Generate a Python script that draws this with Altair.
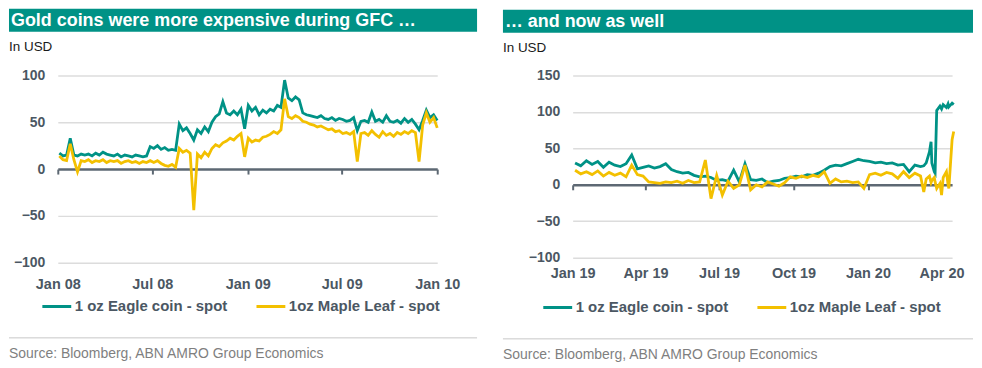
import altair as alt
import pandas as pd

FONT = "Liberation Sans"
TEAL = "#009286"
YELLOW = "#F3C000"
LABEL = "#4b5763"
AXISLINE = "#5d6873"
EAGLE = "1 oz Eagle coin - spot"
MAPLE = "1oz Maple Leaf - spot"

# ---------------- Left panel: GFC (weekly, from 2008-01-04) ----------------
gfc_dates = pd.date_range("2008-01-04", periods=105, freq="7D")
gfc_eagle = [
    17, 14, 15, 33, 15, 14, 16, 15, 16, 14,
    17, 15, 18, 16, 15, 14, 16, 13, 15, 14,
    13, 15, 14, 13, 14, 24, 22, 25, 21, 23,
    20, 21, 20, 48, 41, 44, 38, 31, 42, 38,
    45, 40, 50, 56, 59, 72, 60, 58, 62, 58,
    64, 43, 68, 62, 66, 58, 63, 60, 64, 62,
    68, 66, 95, 76, 73, 77, 74, 60, 58, 57,
    56, 55, 57, 54, 53, 55, 52, 54, 53, 51,
    52, 55, 41, 51, 52, 50, 61, 51, 53, 50,
    57, 51, 50, 52, 49, 54, 50, 53, 48, 42,
    52, 63, 55, 58, 52,
]
gfc_maple = [
    14, 10, 9, 27, 10, -3, 9, 8, 10, 7,
    9, 8, 10, 7, 9, 8, 9, 6, 8, 9,
    7, 8, 6, 8, 7, 9, 7, 9, 6, 4,
    3, 5, 2, 22, 18, 20, 17, -44, 16, 12,
    18, 14, 22, 26, 24, 28, 30, 33, 31, 35,
    38, 13, 33, 29, 31, 30, 34, 35, 37, 40,
    38, 42, 75, 56, 54, 57, 55, 51, 50, 48,
    47, 45, 46, 44, 42, 43, 40, 41, 38, 39,
    37, 40, 8, 38, 39, 36, 41, 37, 34, 40,
    36, 38, 35, 39, 37, 40, 38, 41, 39, 8,
    47, 60, 50, 55, 44,
]
gfc_ticks = [alt.DateTime(year=2008, month=1, date=1), alt.DateTime(year=2008, month=7, date=1),
             alt.DateTime(year=2009, month=1, date=1), alt.DateTime(year=2009, month=7, date=1),
             alt.DateTime(year=2010, month=1, date=1)]
gfc_domain = [alt.DateTime(year=2008, month=1, date=1), alt.DateTime(year=2010, month=1, date=1)]
gfc_yticks = [-100, -50, 0, 50, 100]

# ---------------- Right panel: now (weekly from 2019-01-04, daily-ish tail) ----------------
now_tail_dates = ["2020-03-10", "2020-03-13", "2020-03-17", "2020-03-19", "2020-03-20",
                  "2020-03-23", "2020-03-24", "2020-03-26", "2020-03-30", "2020-04-01",
                  "2020-04-03", "2020-04-07", "2020-04-09", "2020-04-10", "2020-04-14",
                  "2020-04-16"]
now_dates = list(pd.date_range("2019-01-04", periods=62, freq="7D")) + list(pd.to_datetime(now_tail_dates))
now_eagle = [
    30, 26, 33, 28, 32, 24, 31, 27, 25, 29,
    41, 22, 24, 26, 23, 25, 29, 21, 18, 16,
    17, 13, 11, 12, 10, 6, 7, 5, 20, 4,
    29, 7, 6, 8, 3, 5, 6, 9, 10, 12,
    11, 14, 13, 16, 20, 25, 27, 26, 29, 32,
    35, 33, 32, 30, 31, 29, 30, 27, 28, 18,
    27, 25,
    26, 30, 45, 59, 30, 18, 16, 102, 108, 104, 110, 106, 111, 107, 112, 110,
]
now_maple = [
    20, 15, 18, 14, 19, 12, 17, 13, 16, 11,
    27, 14, 12, 4, 3, 2, 4, 3, 5, 2,
    6, 3, 4, 34, -19, 13, -14, 5, -5, 0,
    27, -7, 0, -3, 4, 1, -2, 3, 11, 9,
    12, 10, 13, 11, 18, 2, 8, 4, 5, 3,
    4, -5, 14, 16, 13, 17, 15, 9, 18, 10,
    16, 12,
    -10, 8, 12, 3, 6, 10, 4, -5, 2, -14, 10, 18, 0, -5, 62, 73,
]
now_ticks = [alt.DateTime(year=2019, month=1, date=1), alt.DateTime(year=2019, month=4, date=1),
             alt.DateTime(year=2019, month=7, date=1), alt.DateTime(year=2019, month=10, date=1),
             alt.DateTime(year=2020, month=1, date=1), alt.DateTime(year=2020, month=4, date=1)]
now_domain = [alt.DateTime(year=2019, month=1, date=1), alt.DateTime(year=2020, month=4, date=14)]
now_yticks = [-100, -50, 0, 50, 100, 150]

SOURCE = "Source: Bloomberg, ABN AMRO Group Economics"


def panel(dates, eagle, maple, title, xdomain, xticks, ydomain, yticks, w, h, zero_off, xpad,
          left, right, top, legx, legy, bottom_sep, bottom_src):
    n = len(dates)
    df = pd.DataFrame({"date": list(dates) * 2, "value": eagle + maple,
                       "series": [EAGLE] * n + [MAPLE] * n})
    xscale = alt.Scale(domain=xdomain)
    lines = alt.Chart(df).mark_line(strokeWidth=2.8).encode(
        x=alt.X("date:T", scale=xscale,
                axis=alt.Axis(orient="bottom", values=xticks, format="%b %y", title=None,
                              domain=False, ticks=False, grid=False, labelPadding=xpad,
                              labelFlush=False, labelOverlap=False, labelFont=FONT,
                              labelFontSize=14.5, labelFontWeight="bold", labelColor=LABEL)),
        y=alt.Y("value:Q", scale=alt.Scale(domain=ydomain, nice=False, zero=False),
                axis=alt.Axis(values=yticks, title=None, domain=False, ticks=False, grid=True,
                              gridColor="#dcdcdc", gridWidth=1.5,
                              gridOpacity={"condition": {"test": "datum.value === 0", "value": 0}, "value": 1},
                              labelPadding=13, labelFlush=False, labelFont=FONT, labelFontSize=14,
                              labelFontWeight="bold", labelColor=LABEL)),
        color=alt.Color("series:N", scale=alt.Scale(domain=[EAGLE, MAPLE], range=[TEAL, YELLOW]),
                        legend=alt.Legend(title=None, orient="none", legendX=legx, legendY=legy,
                                          direction="horizontal", symbolType="stroke", symbolSize=841,
                                          symbolStrokeWidth=3, labelFont=FONT, labelFontSize=15,
                                          labelFontWeight="bold", labelColor=LABEL, labelOffset=2,
                                          columnPadding=22, padding=0)),
    )
    zero_axis = alt.Chart(df).mark_rule(opacity=0).encode(
        x=alt.X("date:T", scale=xscale,
                axis=alt.Axis(orient="bottom", values=xticks, labels=False, title=None, grid=False,
                              domain=True, domainColor=AXISLINE, domainWidth=2.5, ticks=True,
                              tickColor=AXISLINE, tickWidth=2, tickSize=5, offset=zero_off)))
    one = pd.DataFrame({"k": [0]})
    banner = alt.Chart(one).mark_rect(color=TEAL).encode(
        x=alt.value(left), x2=alt.value(right), y=alt.value(top), y2=alt.value(top + 23))
    ttl = alt.Chart(one).mark_text(text=title, align="left", baseline="alphabetic", font=FONT,
                                   fontSize=18, fontWeight="bold", color="white").encode(
        x=alt.value(left + 2), y=alt.value(top + 17))
    unit = alt.Chart(one).mark_text(text="In USD", align="left", baseline="alphabetic", font=FONT,
                                    fontSize=13.5, color="#1a1a1a").encode(
        x=alt.value(left), y=alt.value(top + 42))
    sep = alt.Chart(one).mark_rule(color="#c8c8c8", strokeWidth=1).encode(
        x=alt.value(left), x2=alt.value(right), y=alt.value(bottom_sep))
    src = alt.Chart(one).mark_text(text=SOURCE, align="left", baseline="alphabetic", font=FONT,
                                   fontSize=14, color="#7f7f7f").encode(
        x=alt.value(left), y=alt.value(bottom_src))
    return alt.layer(lines, zero_axis, banner, ttl, unit, sep, src).resolve_axis(
        x="independent").properties(width=w, height=h)


left_panel = panel(gfc_dates, gfc_eagle, gfc_maple, "Gold coins were more expensive during GFC \u2026",
                   gfc_domain, gfc_ticks, [-100, 100], gfc_yticks, 381, 188, -94, 15,
                   -49, 421, -67, -17, 216, 263.5, 283.5)
right_panel = panel(now_dates, now_eagle, now_maple, "\u2026 and now as well",
                    now_domain, now_ticks, [-100, 150], now_yticks, 381, 183, -73.2, 9,
                    -70, 402, -66, -31, 217, 264.5, 284.5)

chart = alt.hconcat(left_panel, right_panel, spacing=24).resolve_scale(
    x="independent", y="independent", color="independent").resolve_legend(
    color="independent").properties(padding=0, background="white").configure_view(stroke=None)

chart.save("out.html", embed_options={"renderer": "svg", "actions": False})
